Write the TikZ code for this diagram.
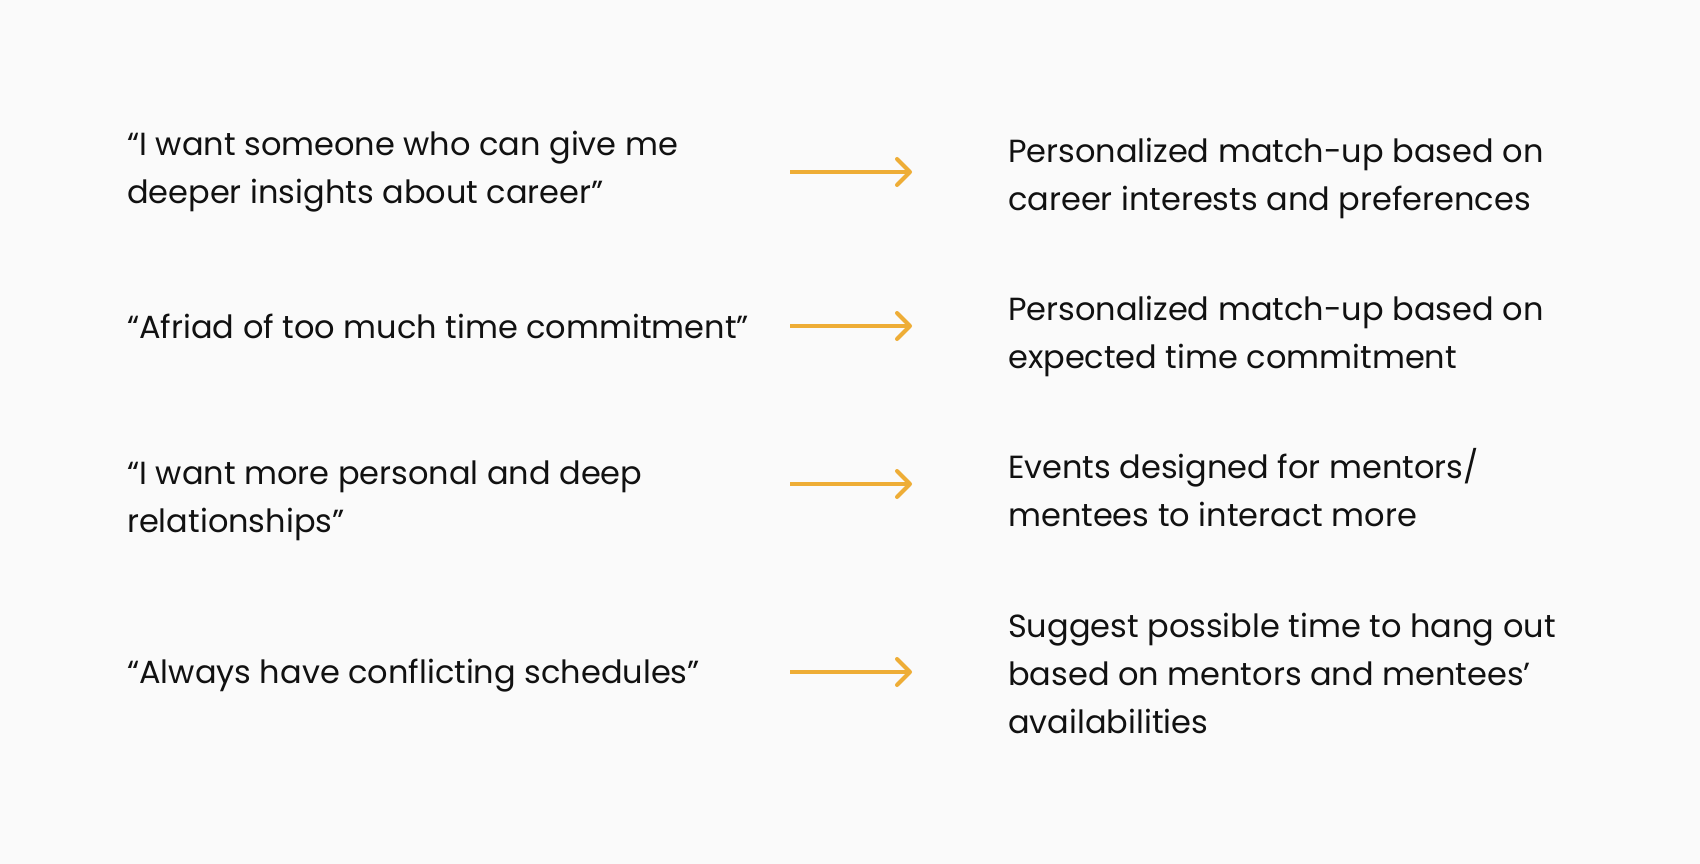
\documentclass[tikz,border=0pt]{standalone}
\usepackage{fontspec}
\setmainfont{Poppins}
\usetikzlibrary{arrows.meta}
\definecolor{paper}{HTML}{FAFAFA}
\definecolor{amber}{HTML}{EEAD36}
\definecolor{ink}{HTML}{111111}

\begin{document}
\begin{tikzpicture}[x=1pt,y=-1pt,
	quote/.style={anchor=west,align=left,inner sep=0pt,text=ink,
		font=\fontsize{32}{48}\selectfont},
	answer/.style={quote},
	link/.style={draw=amber,line width=4pt,
		-{Straight Barb[length=13pt,width=26pt,line cap=round,line join=round]}}]
\fill[paper] (0,0) rectangle (1700,864);
%
\node[quote] (q1) at (127,172) {“I want someone who can give me\\deeper insights about career”};
\node[quote] (q2) at (127,326) {“Afriad of too much time commitment”};
\node[quote] (q3) at (127,501) {“I want more personal and deep\\relationships”};
\node[quote] (q4) at (127,676) {“Always have conflicting schedules”};
%
\node[answer] (r1) at (1008,178) {Personalized match-up based on\\career interests and preferences};
\node[answer] (r2) at (1008,336) {Personalized match-up based on\\expected time commitment};
\node[answer] (r3) at (1008,488) {Events designed for mentors/\\mentees to interact more};
\node[answer] (r4) at (1008,673) {Suggest possible time to hang out\\based on mentors and mentees’\\availabilities};
%
\coordinate (s1) at (790,172);\coordinate (e1) at (912,172);
\coordinate (s2) at (790,326);\coordinate (e2) at (912,326);
\coordinate (s3) at (790,484);\coordinate (e3) at (912,484);
\coordinate (s4) at (790,672);\coordinate (e4) at (912,672);
\draw[link] (s1) -- (e1);
\draw[link] (s2) -- (e2);
\draw[link] (s3) -- (e3);
\draw[link] (s4) -- (e4);
\end{tikzpicture}
\end{document}
